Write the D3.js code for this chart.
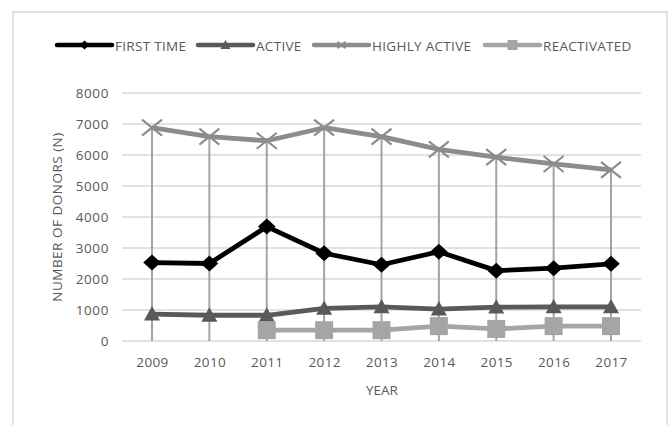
<!DOCTYPE html>
<html><head><meta charset="utf-8">
<script src="https://cdn.jsdelivr.net/npm/d3@7"></script>
<style>body{margin:0;background:#fff;}svg{display:block;}</style>
</head><body>
<script>
const years = ["2009","2010","2011","2012","2013","2014","2015","2016","2017"];
const firstTime = [2530,2500,3690,2830,2460,2880,2270,2350,2490];
const active = [870,830,830,1050,1100,1030,1090,1100,1100];
const highlyActive = [6880,6590,6460,6880,6590,6180,5930,5710,5520];
const reactivated = [null,null,350,350,350,480,390,480,480];
const yTicks = [0,1000,2000,3000,4000,5000,6000,7000,8000];
const seriesNames = ["FIRST TIME","ACTIVE","HIGHLY ACTIVE","REACTIVATED"];

const W=671,H=425;
const svg=d3.select("body").append("svg").attr("width",W).attr("height",H);
const font="'Open Sans', sans-serif";
const txt="#595959";

svg.append("rect").attr("x",13).attr("y",12).attr("width",654).attr("height",430)
  .attr("fill","#fff").attr("stroke","#d9d9d9").attr("stroke-width",1.5);

const x=d3.scalePoint().domain(years).range([152,611]);
const y=d3.scaleLinear().domain([0,8000]).range([341,93]);

// gridlines
svg.append("g").selectAll("line").data(yTicks).join("line")
  .attr("x1",122).attr("x2",641).attr("y1",d=>y(d)).attr("y2",d=>y(d))
  .attr("stroke","#d9d9d9").attr("stroke-width",1.3);

// y axis labels
const yAxis=d3.axisLeft(y).tickValues(yTicks).tickSize(0).tickPadding(0).tickFormat(d3.format("d"));
const gy=svg.append("g").attr("transform","translate(109,0)").call(yAxis);
gy.select(".domain").remove();
gy.selectAll("text").attr("font-family",font).attr("font-size",13.5).attr("letter-spacing",0.6).attr("fill",txt);

// x axis labels
const xAxis=d3.axisBottom(x).tickSize(0).tickPadding(0);
const gx=svg.append("g").attr("transform","translate(0,357)").call(xAxis);
gx.select(".domain").remove();
gx.selectAll("text").attr("font-family",font).attr("font-size",13.5).attr("letter-spacing",0.4).attr("fill",txt);

// axis titles
svg.append("text").attr("x",382).attr("y",395).attr("text-anchor","middle")
  .attr("font-family",font).attr("font-size",13.5).attr("fill",txt).text("YEAR");
svg.append("text").attr("transform","translate(62,217) rotate(-90)").attr("text-anchor","middle")
  .attr("font-family",font).attr("font-size",13.5).attr("letter-spacing",0.5).attr("fill",txt).text("NUMBER OF DONORS (N)");

// drop lines
svg.append("g").selectAll("line").data(years).join("line")
  .attr("x1",d=>x(d)).attr("x2",d=>x(d))
  .attr("y1",(d,i)=>y(highlyActive[i])).attr("y2",y(0))
  .attr("stroke","#a3a3a3").attr("stroke-width",2);

const series=[
  {name:seriesNames[0],vals:firstTime,color:"#000000",sym:"diamond"},
  {name:seriesNames[1],vals:active,color:"#595959",sym:"triangle"},
  {name:seriesNames[2],vals:highlyActive,color:"#8c8c8c",sym:"x"},
  {name:seriesNames[3],vals:reactivated,color:"#a5a5a5",sym:"square"}
];

function marker(g,sym,color,cx,cy,s,sw){
  if(sym==="diamond"){
    g.append("path").attr("d",`M${cx},${cy-s}L${cx+s*1.1},${cy}L${cx},${cy+s}L${cx-s*1.1},${cy}Z`).attr("fill",color);
  }else if(sym==="triangle"){
    g.append("path").attr("d",`M${cx},${cy-s}L${cx+s},${cy+s*0.8}L${cx-s},${cy+s*0.8}Z`).attr("fill",color);
  }else if(sym==="square"){
    g.append("rect").attr("x",cx-s).attr("y",cy-s).attr("width",2*s).attr("height",2*s).attr("fill",color);
  }else{
    g.append("path").attr("d",`M${cx-s},${cy-s*0.8}L${cx+s},${cy+s*0.8}M${cx-s},${cy+s*0.8}L${cx+s},${cy-s*0.8}`)
      .attr("stroke",color).attr("stroke-width",sw||2.2).attr("fill","none");
  }
}

const line=d3.line().defined(d=>d.v!=null).x(d=>x(d.k)).y(d=>y(d.v));
series.forEach(s=>{
  const data=years.map((k,i)=>({k,v:s.vals[i]}));
  const g=svg.append("g");
  g.append("path").datum(data).attr("d",line).attr("fill","none")
    .attr("stroke",s.color).attr("stroke-width",4.8).attr("stroke-linejoin","round");
  const sz={diamond:8,triangle:8,square:9,x:10}[s.sym];
  data.filter(d=>d.v!=null).forEach(d=>marker(g,s.sym,s.color,x(d.k),y(d.v),sz));
});

// legend
const legX=[57,198,314,485];
series.forEach((s,i)=>{
  const g=svg.append("g");
  const lx=legX[i];
  g.append("line").attr("x1",lx).attr("x2",lx+55).attr("y1",45).attr("y2",45)
    .attr("stroke",s.color).attr("stroke-width",4.5).attr("stroke-linecap","round");
  const sz={diamond:4.5,triangle:5,square:5,x:4}[s.sym];
  marker(g,s.sym,s.color,lx+27.5,45,sz,1.8);
  g.append("text").attr("x",lx+58).attr("y",50.5).attr("font-family",font).attr("font-size",13.5)
    .attr("fill",txt).attr("letter-spacing",0.3).text(s.name);
});
</script>
</body></html>
